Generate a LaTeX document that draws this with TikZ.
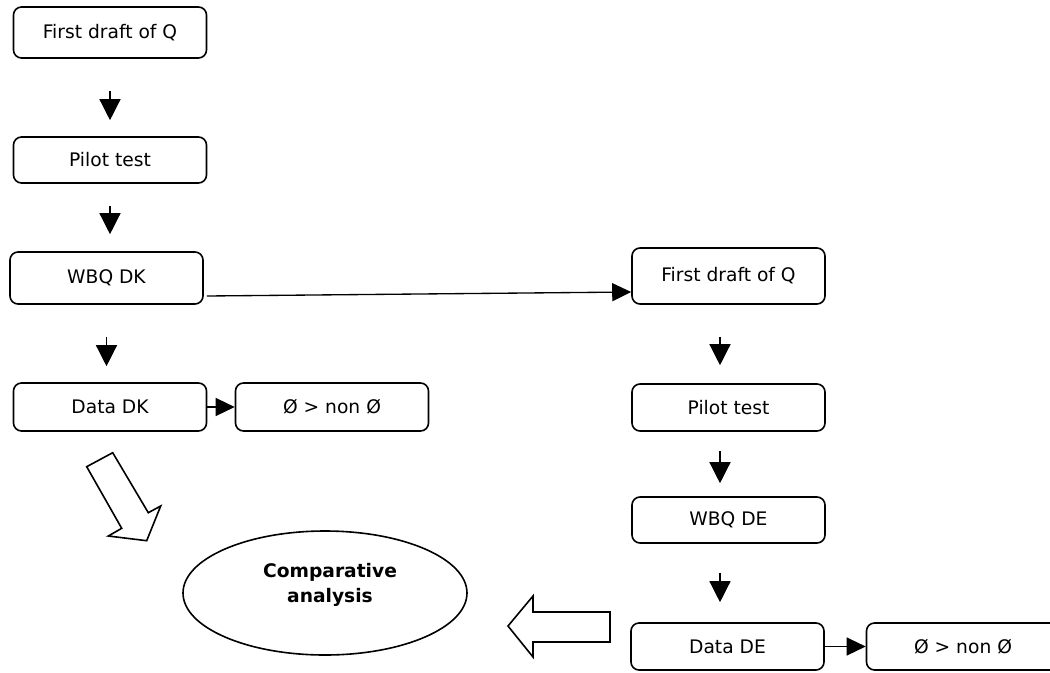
\documentclass[tikz,border=0pt]{standalone}
\usepackage{fontspec}
\setmainfont{DejaVu Sans}
\usetikzlibrary{arrows.meta,calc,shapes.geometric}
\begin{document}
\begin{tikzpicture}[x=0.75pt,y=-0.75pt,
  box/.style={draw, line width=1.2pt, rounded corners=6pt, minimum width=144.75pt, inner sep=0pt, font=\fontsize{14pt}{18.75pt}\selectfont},
  varrow/.style={line width=1pt, -{Triangle[length=15.75pt,width=15.75pt]}},
  harrow/.style={line width=1pt, -{Triangle[length=14.25pt,width=13.5pt]}},
  hollow/.style={draw, line width=1.2pt, line join=miter}]
\useasboundingbox (0,0) rectangle (1050,672);
% left column
\node[box, minimum height=38.25pt] (b1) at (110,32.5) {First draft of Q};
\node[box, minimum height=34.5pt] (b2) at (110,160) {Pilot test};
\node[box, minimum height=39pt] (b3) at (106.5,278) {WBQ DK};
\node[box, minimum height=36pt] (b4) at (110,407) {Data DK};
\node[box, minimum height=36pt] (b5) at (332,407) {Ø > non Ø};
% right column
\node[box, minimum height=42pt] (r1) at (728.5,276) {First draft of Q};
\node[box, minimum height=35.25pt] (r2) at (728.5,407.5) {Pilot test};
\node[box, minimum height=34.5pt] (r3) at (728.5,520) {WBQ DE};
\node[box, minimum height=35.25pt] (r4) at (727.5,646.5) {Data DE};
\node[box, minimum height=35.25pt] (r5) at (963,646.5) {Ø > non Ø};
% ellipse
\node[draw, ellipse, line width=1.2pt, minimum width=213pt, minimum height=93pt, inner sep=0pt] (ca) at (325,593) {};
\node[font=\bfseries\fontsize{14pt}{18.75pt}\selectfont, align=center] (cat) at (330,585) {Comparative\\analysis};
% vertical arrows
\draw[varrow, shorten <=24pt, shorten >=12pt] (b1.south) -- (b1.south |- b2.north);
\draw[varrow, shorten <=16.5pt, shorten >=12.75pt] (b2.south) -- (b2.south |- b3.north);
\draw[varrow, shorten <=24pt, shorten >=12pt] (b3.south) -- (b3.south |- b4.north);
\draw[varrow, shorten <=24pt, shorten >=13.5pt] ($(r1.south)+(-8.5,0)$) -- ($(r2.north)+(-8.5,0)$);
\draw[varrow, shorten <=14.25pt, shorten >=9.75pt] ($(r2.south)+(-8.5,0)$) -- ($(r3.north)+(-8.5,0)$);
\draw[varrow, shorten <=21.75pt, shorten >=15pt] ($(r3.south)+(-8.5,0)$) -- ($(r4.north)+(-7.5,0)$);
% horizontal arrows
\draw[harrow] (b4.east) -- (b5.west);
\draw[harrow] (r4.east) -- (r5.west);
\draw[harrow] ($(b3.east)+(3,18)$) -- ($(r1.west)+(0,16)$);
% hollow arrows
\draw[hollow] (86.7,466.7) -- (112.7,452.7) -- (148.3,512.7) -- (160.7,506) -- (146.7,540.7) -- (108.3,536) -- (121.7,528.3) -- cycle;
\draw[hollow] (508,626) -- (533,596) -- (533,612) -- (610,612) -- (610,642) -- (533,642) -- (533,657) -- cycle;
\end{tikzpicture}
\end{document}
